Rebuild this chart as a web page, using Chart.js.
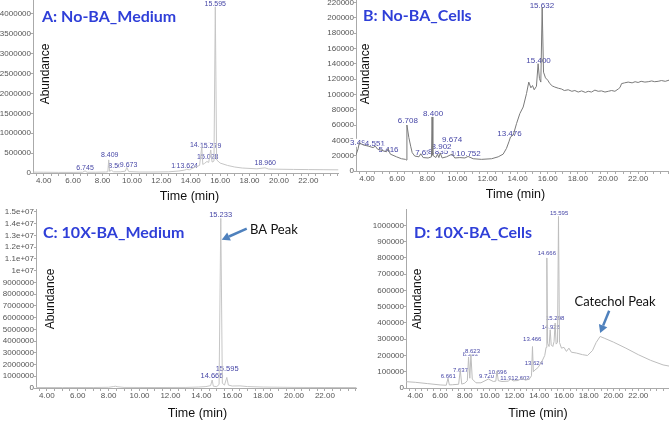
<!DOCTYPE html>
<html>
<head>
<meta charset="utf-8">
<script src="https://cdn.jsdelivr.net/npm/chart.js@4.4.1/dist/chart.umd.min.js"></script>
<style>
  html, body { margin:0; padding:0; background:#ffffff; }
  body { width:669px; height:421px; position:relative; overflow:hidden; }
  .panel { position:absolute; overflow:hidden; }
  .panel canvas { display:block; }
</style>
</head>
<body>
<div class="panel" style="left:0px;top:0px;width:340px;height:205px"><canvas id="chartA" width="340" height="205"></canvas></div>
<div class="panel" style="left:300px;top:0px;width:369px;height:205px"><canvas id="chartB" width="369" height="205"></canvas></div>
<div class="panel" style="left:0px;top:209px;width:360px;height:212px"><canvas id="chartC" width="360" height="212"></canvas></div>
<div class="panel" style="left:340px;top:209px;width:329px;height:212px"><canvas id="chartD" width="329" height="212"></canvas></div>
<script>
// ---------- shared x-axis ticks ----------
const xTickValues = [4, 6, 8, 10, 12, 14, 16, 18, 20, 22];
const xTickLabels = ["4.00", "6.00", "8.00", "10.00", "12.00", "14.00", "16.00", "18.00", "20.00", "22.00"];

// ---------- Panel A: No-BA_Medium ----------
const aTime  = [3.27, 4.0, 5.0, 6.0, 6.65, 6.81, 6.95, 7.5, 8.2, 8.36, 8.42, 8.48, 8.6, 8.75, 9.2, 9.55, 9.65, 9.78, 10.5, 11.5, 12.5, 13.2, 13.6, 13.73, 13.9, 14.3, 14.6, 14.75, 14.82, 14.95, 15.1, 15.22, 15.36, 15.45, 15.58, 15.67, 15.76, 16.0, 16.5, 17.0, 17.5, 18.5, 19.05, 19.3, 20.0, 21.0, 22.0, 23.0, 24.05];
const aAbund = [22000, 20000, 16000, 16000, 20000, 55000, 20000, 20000, 25000, 30000, 330000, 40000, 70000, 30000, 30000, 45000, 140000, 35000, 25000, 25000, 30000, 50000, 75000, 95000, 80000, 150000, 190000, 660000, 215000, 245000, 290000, 265000, 580000, 275000, 300000, 4180000, 330000, 250000, 190000, 150000, 125000, 105000, 130000, 100000, 95000, 90000, 86000, 83000, 80000];
const aYTicks  = [0, 500000, 1000000, 1500000, 2000000, 2500000, 3000000, 3500000, 4000000];
const aYLabels = ["0", "500000", "1000000", "1500000", "2000000", "2500000", "3000000", "3500000", "4000000"];
const aLabelText  = ["6.745", "8.409", "8.564", "9.673", "13.521", "13.624", "14.666", "15.279", "15.028", "15.595", "18.960"];
const aLabelTime  = [6.81, 8.49, 8.99, 9.77, 13.41, 13.76, 14.67, 15.35, 15.16, 15.67, 19.07];
const aLabelValue = [133000, 453000, 166000, 209000, 166000, 166000, 712000, 687000, 392000, 4260000, 252000];

// ---------- Panel B: No-BA_Cells ----------
const bTime  = [3.27, 3.41, 3.49, 3.6, 3.75, 4.08, 4.41, 4.55, 4.7, 5.07, 5.29, 5.40, 5.55, 5.96, 6.29, 6.55, 6.61, 6.65, 6.78, 6.91, 7.0, 7.17, 7.45, 7.57, 7.73, 8.06, 8.28, 8.32, 8.37, 8.57, 8.68, 8.77, 8.86, 8.99, 9.28, 9.65, 9.83, 10.16, 10.5, 10.71, 11.05, 11.6, 12.27, 12.71, 13.04, 13.26, 13.42, 13.53, 13.71, 13.93, 14.15, 14.37, 14.59, 14.74, 14.88, 14.99, 15.1, 15.25, 15.36, 15.45, 15.54, 15.63, 15.72, 15.85, 16.0, 16.14, 16.3, 16.47, 16.7, 16.91, 17.1, 17.36, 17.6, 17.8, 18.02, 18.25, 18.5, 18.69, 18.9, 19.13, 19.35, 19.57, 19.8, 20.02, 20.24, 20.46, 20.68, 20.8, 20.9, 21.1, 21.34, 21.6, 21.8, 22.0, 22.2, 22.45, 22.67, 22.9, 23.1, 23.33, 23.55, 23.8, 24.05];
const bAbund = [21000, 29000, 37000, 35500, 34000, 32500, 30500, 32500, 28500, 26500, 25000, 29000, 22000, 18500, 16000, 15200, 14300, 60000, 43500, 31500, 24000, 19500, 18500, 22500, 17500, 17000, 18500, 70500, 20500, 17500, 22000, 17500, 23500, 17000, 18500, 22000, 17000, 17500, 17000, 19000, 16000, 15200, 16000, 18500, 22000, 29500, 38000, 44500, 47000, 62000, 75000, 83500, 101000, 116000, 108500, 111500, 106000, 110500, 140000, 120500, 116000, 213500, 129000, 121500, 118500, 114000, 111000, 109500, 108000, 107000, 105000, 106000, 104000, 105000, 103000, 104500, 102500, 104000, 103000, 105500, 104000, 104500, 103000, 104000, 105000, 104000, 107000, 109000, 114000, 115000, 116000, 115000, 116500, 115500, 117000, 116000, 116500, 117500, 116500, 117000, 118000, 117000, 118500];
const bYTicks  = [0, 20000, 40000, 60000, 80000, 100000, 120000, 140000, 160000, 180000, 200000, 220000];
const bYLabels = ["0", "20000", "40000", "60000", "80000", "100000", "120000", "140000", "160000", "180000", "200000", "220000"];
const bLabelText  = ["3.496", "4.551", "5.416", "6.708", "7.657", "8.400", "8.835", "8.902", "9.674", "10.148", "10.752", "13.476", "15.400", "15.632"];
const bLabelTime  = [3.54, 4.52, 5.43, 6.71, 7.86, 8.39, 8.72, 8.95, 9.65, 10.38, 10.74, 13.46, 15.39, 15.61];
const bLabelValue = [36800, 35100, 28100, 65400, 23800, 74500, 25100, 31600, 40300, 22100, 22100, 48900, 144200, 216000];

// ---------- Panel C: 10X-BA_Medium ----------
const cTime  = [3.3, 5.0, 7.0, 8.0, 8.3, 8.45, 8.6, 9.0, 11.0, 13.0, 13.8, 14.3, 14.6, 14.70, 14.78, 15.0, 15.15, 15.26, 15.36, 15.5, 15.65, 15.75, 16.0, 16.5, 17.0, 18.0, 20.0, 22.0, 24.05];
const cAbund = [40000, 40000, 40000, 60000, 120000, 150000, 100000, 50000, 40000, 50000, 80000, 120000, 200000, 680000, 150000, 120000, 300000, 14450000, 400000, 250000, 900000, 250000, 170000, 180000, 120000, 80000, 50000, 40000, 40000];
const cYTicks  = [0, 1000000, 2000000, 3000000, 4000000, 5000000, 6000000, 7000000, 8000000, 9000000, 10000000, 11000000, 12000000, 13000000, 14000000, 15000000];
const cYLabels = ["0", "1000000", "2000000", "3000000", "4000000", "5000000", "6000000", "7000000", "8000000", "9000000", "1e+07", "1.1e+07", "1.2e+07", "1.3e+07", "1.4e+07", "1.5e+07"];
const cLabelText  = ["14.666", "15.233", "15.595"];
const cLabelTime  = [14.69, 15.25, 15.67];
const cLabelValue = [1070000, 14760000, 1620000];
const cNoteText  = ["BA Peak"];
const cNoteTime  = [17.15];
const cNoteValue = [13480000];

// ---------- Panel D: 10X-BA_Cells ----------
const dTime  = [3.25, 4.0, 5.0, 6.0, 6.5, 6.64, 6.75, 7.0, 7.5, 7.63, 7.75, 8.0, 8.2, 8.30, 8.4, 8.49, 8.6, 8.9, 9.3, 9.9, 10.3, 10.5, 10.59, 10.7, 11.0, 11.5, 11.7, 11.9, 12.3, 12.6, 12.9, 13.2, 13.38, 13.46, 13.53, 13.65, 13.9, 14.2, 14.45, 14.56, 14.62, 14.68, 14.8, 14.89, 14.97, 15.1, 15.2, 15.29, 15.37, 15.48, 15.56, 15.64, 15.8, 16.0, 16.2, 16.4, 16.6, 17.0, 17.5, 17.9, 18.3, 18.6, 18.92, 19.3, 20.0, 21.0, 22.0, 23.0, 24.0, 24.48];
const dAbund = [39000, 35000, 27000, 19000, 17000, 60000, 19000, 20000, 23000, 110000, 24000, 30000, 45000, 190000, 60000, 205000, 55000, 32000, 32000, 55000, 40000, 42000, 105000, 45000, 40000, 42000, 55000, 44000, 46000, 60000, 48000, 55000, 75000, 255000, 100000, 110000, 125000, 160000, 200000, 250000, 800000, 275000, 255000, 358000, 265000, 255000, 285000, 400000, 270000, 280000, 1055000, 280000, 245000, 250000, 225000, 245000, 220000, 215000, 205000, 200000, 230000, 280000, 317000, 305000, 282000, 245000, 205000, 170000, 142000, 135000];
const dYTicks  = [0, 100000, 200000, 300000, 400000, 500000, 600000, 700000, 800000, 900000, 1000000];
const dYLabels = ["0", "100000", "200000", "300000", "400000", "500000", "600000", "700000", "800000", "900000", "1000000"];
const dLabelText  = ["6.661", "7.637", "8.393", "8.623", "9.720", "10.696", "11.935", "12.602", "13.466", "13.624", "14.666", "14.926", "15.298", "15.595"];
const dLabelTime  = [6.66, 7.65, 8.44, 8.62, 9.75, 10.64, 11.58, 12.49, 13.44, 13.57, 14.62, 14.94, 15.29, 15.61];
const dLabelValue = [71000, 106000, 209000, 225000, 71000, 98000, 61500, 61500, 297000, 154000, 826000, 373000, 428000, 1072000];
const dNoteText  = ["Catechol Peak"];
const dNoteTime  = [16.85];
const dNoteValue = [532600];

// ---------- drawing helpers ----------
Chart.defaults.font.family = "'Liberation Sans', Arial, sans-serif";
Chart.defaults.animation = false;

const decor = {
  id: 'decor',
  beforeDatasetsDraw(chart, args, o) {
    const ctx = chart.ctx, xs = chart.scales.x, ys = chart.scales.y;
    ctx.save();
    ctx.font = o.labelFont;
    ctx.textAlign = 'center';
    ctx.textBaseline = 'middle';
    for (let i = 0; i < o.labelText.length; i++) {
      const px = xs.getPixelForValue(o.labelTime[i]);
      const py = ys.getPixelForValue(o.labelValue[i]);
      const w = ctx.measureText(o.labelText[i]).width;
      ctx.fillStyle = '#ffffff';
      ctx.fillRect(px - w / 2 - 0.5, py - o.labelH / 2, w + 1, o.labelH);
      ctx.fillStyle = '#4646a6';
      ctx.fillText(o.labelText[i], px, py);
    }
    ctx.restore();
  },
  afterDraw(chart, args, o) {
    const ctx = chart.ctx, xs = chart.scales.x, ys = chart.scales.y;
    ctx.save();
    ctx.textBaseline = 'middle';
    // panel title
    ctx.fillStyle = '#2f3fd8';
    ctx.font = 'bold 16px Lato';
    ctx.textAlign = 'left';
    ctx.fillText(o.title, o.titleX, o.titleY);
    // axis titles
    ctx.fillStyle = '#111111';
    ctx.font = "12px 'Liberation Sans'";
    ctx.textAlign = 'center';
    ctx.save();
    ctx.translate(o.abX, o.abY);
    ctx.rotate(-Math.PI / 2);
    ctx.fillText('Abundance', 0, 0);
    ctx.restore();
    ctx.font = "12.5px 'Liberation Sans'";
    ctx.fillText('Time (min)', o.timeX, o.timeY);
    // notes
    if (o.noteText) {
      ctx.font = '13px Lato';
      ctx.textAlign = 'left';
      for (let i = 0; i < o.noteText.length; i++) {
        ctx.fillText(o.noteText[i], xs.getPixelForValue(o.noteTime[i]), ys.getPixelForValue(o.noteValue[i]));
      }
    }
    // arrows
    (o.arrows || []).forEach(a => {
      const x0 = xs.getPixelForValue(a.t0), y0 = ys.getPixelForValue(a.v0);
      const x1 = xs.getPixelForValue(a.t1), y1 = ys.getPixelForValue(a.v1);
      const ang = Math.atan2(y1 - y0, x1 - x0), hl = 8, hw = 4.5;
      const bx = x1 - hl * Math.cos(ang), by = y1 - hl * Math.sin(ang);
      ctx.strokeStyle = '#4f81bd';
      ctx.fillStyle = '#4f81bd';
      ctx.lineWidth = 2.5;
      ctx.beginPath(); ctx.moveTo(x0, y0); ctx.lineTo(bx, by); ctx.stroke();
      ctx.beginPath();
      ctx.moveTo(x1, y1);
      ctx.lineTo(bx + hw * Math.sin(ang), by - hw * Math.cos(ang));
      ctx.lineTo(bx - hw * Math.sin(ang), by + hw * Math.cos(ang));
      ctx.closePath(); ctx.fill();
    });
    ctx.restore();
  }
};

function makeChart(id, p) {
  const points = p.time.map((t, i) => ({ x: t, y: p.abund[i] }));
  return new Chart(document.getElementById(id), {
    type: 'line',
    data: { datasets: [{ data: points, borderColor: p.lineColor, borderWidth: 1, pointRadius: 0, tension: 0, fill: false }] },
    plugins: [decor],
    options: {
      responsive: false,
      animation: false,
      layout: { padding: { left: 0, top: 0, right: p.padRight, bottom: 0 } },
      plugins: {
        legend: { display: false },
        tooltip: { enabled: false },
        decor: p.decor
      },
      scales: {
        x: {
          type: 'linear', min: p.xMin, max: p.xMax,
          afterBuildTicks: s => {
            const t = [];
            for (let v = Math.ceil(p.xMin * 2) / 2; v <= p.xMax; v += 0.5) t.push({ value: v });
            s.ticks = t;
          },
          afterFit: s => { s.height = p.xAxisH; s.paddingLeft = 0; s.paddingRight = 0; },
          grid: { drawOnChartArea: false, drawTicks: true, tickLength: 3, color: '#aaaaaa' },
          border: { display: true, color: '#aaaaaa', width: 1 },
          ticks: {
            autoSkip: false, maxRotation: 0, minRotation: 0, padding: 0,
            color: '#555555', font: { size: 8 },
            callback: v => { const i = xTickValues.indexOf(v); return i >= 0 ? xTickLabels[i] : ''; }
          }
        },
        y: {
          type: 'linear', min: 0, max: p.yMax,
          afterBuildTicks: s => { s.ticks = p.yTicks.map(v => ({ value: v })); },
          afterFit: s => { s.width = p.yAxisW; s.paddingTop = 0; s.paddingBottom = 0; },
          grid: { drawOnChartArea: false, drawTicks: true, tickLength: 2, color: '#aaaaaa' },
          border: { display: true, color: '#aaaaaa', width: 1 },
          ticks: {
            autoSkip: false, padding: 0, color: '#555555', font: { size: 8 },
            callback: (v, i) => p.yLabels[i]
          }
        }
      }
    }
  });
}

makeChart('chartA', {
  time: aTime, abund: aAbund, lineColor: '#c6c6c6',
  xMin: 3.27, xMax: 24.05, yMax: 4352000, yTicks: aYTicks, yLabels: aYLabels,
  xAxisH: 32, yAxisW: 33, padRight: 1.5,
  decor: {
    labelText: aLabelText, labelTime: aLabelTime, labelValue: aLabelValue, labelFont: "7px 'Liberation Sans'", labelH: 7,
    title: 'A: No-BA_Medium', titleX: 42, titleY: 17, abX: 46, abY: 74, timeX: 189.5, timeY: 197
  }
});

makeChart('chartB', {
  time: bTime, abund: bAbund, lineColor: '#7a7a7a',
  xMin: 3.27, xMax: 24.05, yMax: 223100, yTicks: bYTicks, yLabels: bYLabels,
  xAxisH: 34, yAxisW: 56, padRight: 0,
  decor: {
    labelText: bLabelText, labelTime: bLabelTime, labelValue: bLabelValue, labelFont: "8px 'Liberation Sans'", labelH: 8,
    title: 'B: No-BA_Cells', titleX: 63, titleY: 16, abX: 66, abY: 74, timeX: 215.5, timeY: 195
  }
});

makeChart('chartC', {
  time: cTime, abund: cAbund, lineColor: '#c6c6c6',
  xMin: 3.3, xMax: 24.05, yMax: 15247000, yTicks: cYTicks, yLabels: cYLabels,
  xAxisH: 33, yAxisW: 36, padRight: 3.4,
  decor: {
    labelText: cLabelText, labelTime: cLabelTime, labelValue: cLabelValue, labelFont: "7.5px 'Liberation Sans'", labelH: 7.5,
    title: 'C: 10X-BA_Medium', titleX: 43, titleY: 24, abX: 51, abY: 90, timeX: 197.5, timeY: 205,
    noteText: cNoteText, noteTime: cNoteTime, noteValue: cNoteValue,
    arrows: [{ t0: 16.94, v0: 13570000, t1: 15.32, v1: 12630000 }]
  }
});

makeChart('chartD', {
  time: dTime, abund: dAbund, lineColor: '#bdbdbd',
  xMin: 3.25, xMax: 24.48, yMax: 1100900, yTicks: dYTicks, yLabels: dYLabels,
  xAxisH: 33, yAxisW: 66, padRight: 0,
  decor: {
    labelText: dLabelText, labelTime: dLabelTime, labelValue: dLabelValue, labelFont: "6px 'Liberation Sans'", labelH: 6,
    title: 'D: 10X-BA_Cells', titleX: 74, titleY: 24, abX: 78, abY: 90, timeX: 198, timeY: 205,
    noteText: dNoteText, noteTime: dNoteTime, noteValue: dNoteValue,
    arrows: [{ t0: 19.65, v0: 475400, t1: 18.92, v1: 338000 }]
  }
});
</script>
</body>
</html>
